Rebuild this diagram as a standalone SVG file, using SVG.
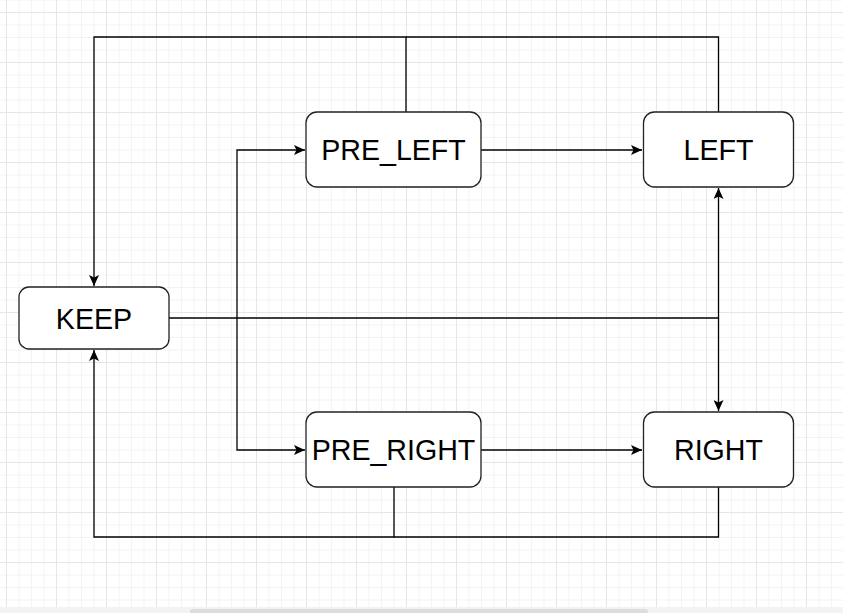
<svg xmlns="http://www.w3.org/2000/svg" width="843" height="613" viewBox="0 0 843 613">
<style>
.node rect{fill:#ffffff;stroke:#222222;stroke-width:1.3}
.node text{font-family:"Liberation Sans",Arial,sans-serif;font-size:28.6px;fill:#000000;text-anchor:middle;dominant-baseline:central}
.edge{fill:none;stroke:#000000;stroke-width:1.3}
</style>
<defs>
<pattern id="minor" x="6" y="12" width="12.5" height="12.5" patternUnits="userSpaceOnUse">
<path d="M0.5,0V12.5M0,0.5H12.5" stroke="#f3f3f3" stroke-width="1" fill="none"/>
</pattern>
<pattern id="major" x="6" y="12" width="50" height="50" patternUnits="userSpaceOnUse">
<path d="M0.5,0V50M0,0.5H50" stroke="#e6e6e6" stroke-width="1" fill="none"/>
</pattern>
<marker id="arr" viewBox="0 0 12 10" refX="11" refY="5" markerWidth="12" markerHeight="10" markerUnits="userSpaceOnUse" orient="auto">
<path d="M0,0L11,5L0,10L2.5,5Z" fill="#000000"/>
</marker>
</defs>
<rect width="843" height="613" fill="#ffffff"/>
<rect width="843" height="607" fill="url(#minor)"/>
<rect width="843" height="607" fill="url(#major)"/>
<rect x="0" y="607" width="843" height="6" fill="#f3f3f3"/>
<rect x="190" y="609" width="458" height="6" rx="3" fill="#dddddd"/>
<g id="connectors">
<path class="edge" d="M406,112V37H94V286" marker-end="url(#arr)"/>
<path class="edge" d="M718.5,112V37H406"/>
<path class="edge" d="M169,318H718.5V188" marker-end="url(#arr)"/>
<path class="edge" d="M718.5,318V411" marker-end="url(#arr)"/>
<path class="edge" d="M237,318V150H305" marker-end="url(#arr)"/>
<path class="edge" d="M237,318V450H305" marker-end="url(#arr)"/>
<path class="edge" d="M481,150H642" marker-end="url(#arr)"/>
<path class="edge" d="M481,450H642" marker-end="url(#arr)"/>
<path class="edge" d="M394,487V537H94V350" marker-end="url(#arr)"/>
<path class="edge" d="M718.5,487V537H394"/>
</g>
<g id="KEEP" class="node"><rect x="19" y="287" width="150" height="62" rx="10"/><text x="94" y="318.5">KEEP</text></g>
<g id="PRE_LEFT" class="node"><rect x="306" y="112" width="175" height="75" rx="11"/><text x="393.5" y="150">PRE_LEFT</text></g>
<g id="LEFT" class="node"><rect x="643.5" y="112" width="150" height="75" rx="11"/><text x="718.5" y="150">LEFT</text></g>
<g id="PRE_RIGHT" class="node"><rect x="306" y="412" width="175" height="75" rx="11"/><text x="393.5" y="450">PRE_RIGHT</text></g>
<g id="RIGHT" class="node"><rect x="643.5" y="412" width="150" height="75" rx="11"/><text x="718.5" y="450">RIGHT</text></g>
</svg>
